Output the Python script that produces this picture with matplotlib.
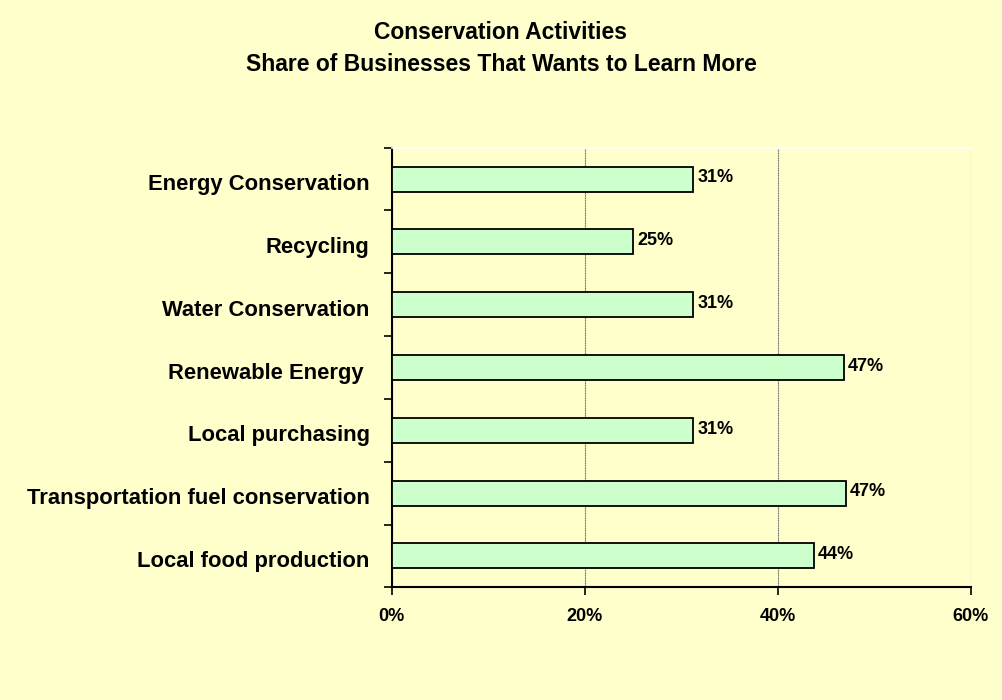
import matplotlib.pyplot as plt
from matplotlib.ticker import FuncFormatter

# survey results, top to bottom as listed
activities = ["Energy Conservation", "Recycling", "Water Conservation",
              "Renewable Energy ", "Local purchasing",
              "Transportation fuel conservation", "Local food production"]
shares = [0.3125, 0.25, 0.3125, 0.46875, 0.3125, 0.4706, 0.4375]

bg = "#FFFFCC"
plt.rcParams['font.family'] = ['Liberation Sans', 'DejaVu Sans']

fig = plt.figure(figsize=(10.02, 7.0), dpi=100, facecolor=bg)
ax = fig.add_axes([0.391, 0.161, 0.578, 0.628], facecolor=bg)

pos = list(range(len(activities)))[::-1]
ax.barh(pos, shares, height=0.4, color="#CCFFCC", edgecolor="black",
        linewidth=1.3, zorder=3)

for p, v in zip(pos, shares):
    ax.text(v + 0.004, p + 0.02, f"{v:.0%}", va="center", ha="left",
            fontsize=13, fontweight="bold", zorder=4)

ax.set_xlim(0, 0.6)
ax.set_ylim(-0.5, len(activities) - 0.5)
ax.set_xticks([0, 0.2, 0.4, 0.6])
ax.xaxis.set_major_formatter(FuncFormatter(lambda x, _: f"{x:.0%}"))
ax.grid(axis="x", color="#666666", linewidth=0.8, linestyle=(0, (1, 0.5)),
        zorder=1)

# category labels sit between the boundary ticks
ax.set_yticks([p + 0.5 for p in range(len(activities))] + [-0.5])
ax.set_yticklabels([])
ax.set_yticks([p - 0.05 for p in pos], minor=True)
ax.set_yticklabels(activities, minor=True, fontsize=15.8, fontweight="bold")
ax.tick_params(axis="y", which="minor", length=0, pad=16)
ax.tick_params(axis="y", which="major", length=6, width=1.2, direction="out")
ax.tick_params(axis="x", length=6, width=1.2, direction="out", pad=9,
               labelsize=13)
for lbl in ax.get_xticklabels():
    lbl.set_fontweight("bold")

ax.spines["left"].set_linewidth(1.5)
ax.spines["bottom"].set_linewidth(1.5)
ax.spines["right"].set_visible(False)
ax.spines["top"].set_color("white")
ax.spines["top"].set_linewidth(1.2)

fig.text(0.5, 0.953, "Conservation Activities", ha="center", va="center",
         fontsize=16.5, fontweight="bold")
fig.text(0.5, 0.908, "Share of Businesses That Wants to Learn More",
         ha="center", va="center", fontsize=16.5, fontweight="bold")

fig.savefig("out.png", dpi=100, facecolor=bg)
